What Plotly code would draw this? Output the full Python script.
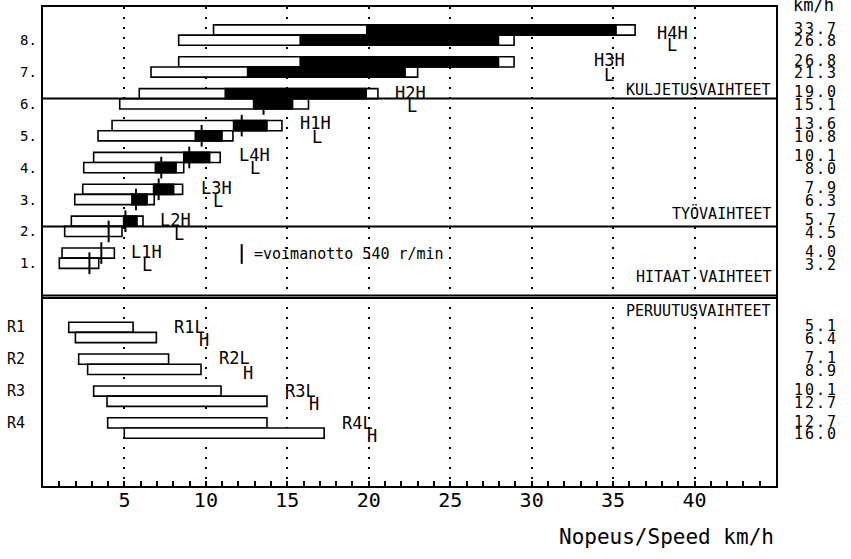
import plotly.graph_objects as go

# ---------------- data ----------------
fwd_gears = ["H4H", "H4L", "H3H", "H3L", "H2H", "H2L", "H1H", "H1L",
             "L4H", "L4L", "L3H", "L3L", "L2H", "L2L", "L1H", "L1L"]
fwd_nominal = [33.7, 26.8, 26.8, 21.3, 19.0, 15.1, 13.6, 10.8,
               10.1, 8.0, 7.9, 6.3, 5.7, 4.5, 4.0, 3.2]
fwd_start = [10.47, 8.33, 8.33, 6.63, 5.91, 4.71, 4.24, 3.38,
             3.11, 2.50, 2.44, 1.95, 1.74, 1.33, 1.17, 1.00]
fwd_end = [36.35, 28.92, 28.92, 23.00, 20.56, 16.30, 14.67, 11.66,
           10.88, 8.64, 8.57, 6.83, 6.14, 4.85, 4.38, 3.42]
fwd_black_start = [19.88, 15.79, 15.79, 12.56, 11.19, 12.93, 11.70, 9.35,
                   8.64, 6.90, 6.79, 5.46, 4.95, None, None, None]
fwd_black_end = [35.18, 27.96, 27.96, 22.23, 19.84, 15.32, 13.75, 10.99,
                 10.23, 8.17, 8.02, 6.39, 5.77, None, None, None]
fwd_pto = [None, None, None, None, None, 13.54, 12.20, 9.74,
           8.98, 7.26, 7.10, 5.71, 5.06, 4.03, 3.58, 2.85]

rev_gears = ["R1L", "R1H", "R2L", "R2H", "R3L", "R3H", "R4L", "R4H"]
rev_nominal = [5.1, 6.4, 7.1, 8.9, 10.1, 12.7, 12.7, 16.0]
rev_start = [1.58, 1.99, 2.19, 2.74, 3.11, 3.93, 3.97, 4.99]
rev_end = [5.53, 6.96, 7.71, 9.70, 10.93, 13.75, 13.75, 17.26]

gear_numbers = ["8.", "7.", "6.", "5.", "4.", "3.", "2.", "1."]
rev_numbers = ["R1", "R2", "R3", "R4"]
x_ticks = [5, 10, 15, 20, 25, 30, 35, 40]

section_names = ["KULJETUSVAIHTEET", "TYÖVAIHTEET", "HITAAT VAIHTEET", "PERUUTUSVAIHTEET"]
legend_text = "=voimanotto 540 r/min"

# ---------------- layout geometry ----------------
FONT = "DejaVu Sans Mono"
HALF = 0.16   # half bar thickness (y units)
BW = 0.32     # bar thickness

def fwd_center(i):
    g = 8 - i // 2
    return g + 6.15

def rev_center(j):
    k = j // 2 + 1
    return 5.82 - k

fwd_y = [fwd_center(i) + (HALF if i % 2 == 0 else -HALF) for i in range(16)]
rev_y = [rev_center(j) + (HALF if j % 2 == 0 else -HALF) for j in range(8)]

all_y = fwd_y + rev_y
all_start = fwd_start + rev_start
all_end = fwd_end + rev_end

fig = go.Figure()

# white range bars
fig.add_trace(go.Bar(
    orientation="h", y=all_y, base=all_start,
    x=[e - s for s, e in zip(all_start, all_end)],
    width=BW, marker=dict(color="white", line=dict(color="black", width=1.6)),
    hoverinfo="skip", showlegend=False))

# black segments
bys, bbase, blen = [], [], []
for y, s, e in zip(fwd_y, fwd_black_start, fwd_black_end):
    if s is not None:
        bys.append(y); bbase.append(s); blen.append(e - s)
fig.add_trace(go.Bar(
    orientation="h", y=bys, base=bbase, x=blen, width=BW,
    marker=dict(color="black", line=dict(color="black", width=1.6)),
    hoverinfo="skip", showlegend=False))

# PTO 540 r/min marks
px_, py_ = [], []
for y, v in zip(fwd_y, fwd_pto):
    if v is not None:
        px_ += [v, v, None]; py_ += [y - 0.34, y + 0.34, None]
fig.add_trace(go.Scatter(x=px_, y=py_, mode="lines",
                         line=dict(color="black", width=2),
                         hoverinfo="skip", showlegend=False))

annotations = []
PL, PR = 43, 776
PT, PB = 5, 486
def paper_x(px):
    return (px - PL) / (PR - PL)
def paper_y(py):
    return (PB - py) / (PB - PT)

# right-side nominal speeds
for i, v in enumerate(fwd_nominal):
    c = fwd_center(i)
    y = c + 0.2 if i % 2 == 0 else c - 0.2
    annotations.append(dict(x=paper_x(840), xref="paper", y=y, yref="y",
                            text='<span style="letter-spacing:2px">%.1f</span>' % v,
                            xanchor="right", yanchor="middle", showarrow=False,
                            font=dict(family=FONT, size=15, color="black")))
for j, v in enumerate(rev_nominal):
    c = rev_center(j)
    y = c + 0.2 if j % 2 == 0 else c - 0.2
    annotations.append(dict(x=paper_x(840), xref="paper", y=y, yref="y",
                            text='<span style="letter-spacing:2px">%.1f</span>' % v,
                            xanchor="right", yanchor="middle", showarrow=False,
                            font=dict(family=FONT, size=15, color="black")))

# left gear numbers
for n, lab in enumerate(gear_numbers):
    y = fwd_y[2 * n + 1]
    annotations.append(dict(x=paper_x(39), xref="paper", y=y, yref="y", text=lab,
                            xanchor="right", yanchor="middle", showarrow=False,
                            font=dict(family=FONT, size=14, color="black")))
for n, lab in enumerate(rev_numbers):
    y = rev_y[2 * n]
    annotations.append(dict(x=paper_x(5), xref="paper", y=y, yref="y", text=lab,
                            xanchor="left", yanchor="middle", showarrow=False,
                            font=dict(family=FONT, size=15, color="black")))

# gear name labels (main label, second-letter label) anchor positions
label_pos = [
    ("H4H", 37.57, 14.22, "L", 38.18, 13.84),
    ("H3H", 33.70, 13.38, "L", 34.32, 12.90),
    ("H2H", 21.49, 12.33, "L", 22.22, 11.94),
    ("H1H", 15.65, 11.39, "L", 16.39, 10.94),
    ("L4H", 11.91, 10.39, "L", 12.58, 9.97),
    ("L3H", 9.58, 9.36, "L", 10.31, 8.94),
    ("L2H", 7.06, 8.36, "L", 7.92, 7.92),
    ("L1H", 5.28, 7.34, "L", 5.95, 6.94),
    ("R1L", 7.92, 5.00, "H", 9.45, 4.59),
    ("R2L", 10.68, 4.02, "H", 12.16, 3.56),
    ("R3L", 14.73, 2.97, "H", 16.21, 2.56),
    ("R4L", 18.23, 1.98, "H", 19.77, 1.56),
]
for t1, x1, y1, t2, x2, y2 in label_pos:
    for t, x, y in ((t1, x1, y1), (t2, x2, y2)):
        annotations.append(dict(x=x, y=y, xref="x", yref="y", text=t,
                                xanchor="left", yanchor="middle", showarrow=False,
                                font=dict(family=FONT, size=17, color="black")))

# section names
for name, py in zip(section_names, [88, 212.5, 276.5, 310]):
    annotations.append(dict(x=paper_x(773), xref="paper", y=paper_y(py), yref="paper",
                            text=name, xanchor="right", yanchor="middle",
                            showarrow=False, font=dict(family=FONT, size=15, color="black")))

# legend text
annotations.append(dict(x=12.83, y=7.28, xref="x", yref="y", text=legend_text,
                        xanchor="left", yanchor="middle", showarrow=False,
                        font=dict(family=FONT, size=15, color="black")))

# axis title and unit
annotations.append(dict(x=1.0, xref="paper", y=paper_y(537), yref="paper",
                        text="Nopeus/Speed km/h", xanchor="right", yanchor="middle",
                        showarrow=False, font=dict(family=FONT, size=21, color="black")))
annotations.append(dict(x=paper_x(791), xref="paper", y=paper_y(3), yref="paper",
                        text="km/h", xanchor="left", yanchor="middle",
                        showarrow=False, font=dict(family=FONT, size=17, color="black")))

shapes = []
for yv in [12.16, 8.14, 5.98, 5.90]:
    shapes.append(dict(type="line", xref="paper", x0=0, x1=1, yref="y", y0=yv, y1=yv,
                       line=dict(color="black", width=2)))
# legend mark
shapes.append(dict(type="line", xref="x", yref="y", x0=12.2, x1=12.2, y0=6.97, y1=7.59,
                   line=dict(color="black", width=2)))

fig.update_layout(
    width=851, height=559,
    margin=dict(l=PL, r=851 - PR, t=PT, b=559 - PB),
    paper_bgcolor="white", plot_bgcolor="white",
    barmode="overlay", showlegend=False,
    annotations=annotations, shapes=shapes,
    xaxis=dict(range=[0, 45], tickvals=x_ticks, ticktext=[str(v) for v in x_ticks],
               ticks="inside", ticklen=5, tickwidth=1.5, tickcolor="black",
               showline=True, linecolor="black", linewidth=2, mirror=True,
               showgrid=True, gridcolor="black", gridwidth=2, griddash="2px,8px",
               zeroline=False, ticklabelstandoff=-5,
               tickfont=dict(family=FONT, size=20, color="black"),
               minor=dict(dtick=1, ticks="inside", ticklen=5, tickwidth=1.5,
                          tickcolor="black", showgrid=False)),
    yaxis=dict(range=[0, (PB - PT) / 32.0], showticklabels=False, ticks="",
               showline=True, linecolor="black", linewidth=2, mirror=True,
               showgrid=False, zeroline=False),
)

fig.write_html("out.html")
